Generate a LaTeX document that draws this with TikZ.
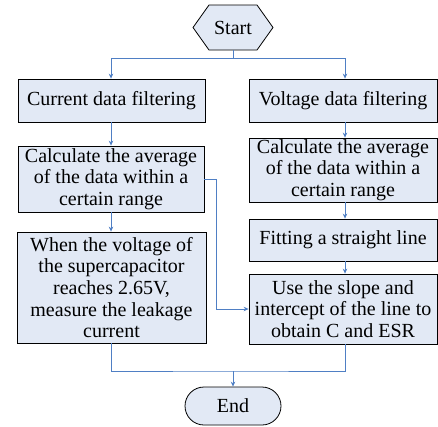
\documentclass[tikz,border=0pt]{standalone}
\usepackage{fontspec}
\setmainfont{Liberation Serif}
\usetikzlibrary{arrows.meta}
\definecolor{boxfill}{RGB}{226,233,245}
\definecolor{linkblue}{RGB}{79,127,196}
\begin{document}
\begin{tikzpicture}[x=1pt,y=1pt,
  stepbox/.style={draw=black,line width=0.8pt,fill=boxfill,align=center,inner sep=0pt,
    font=\fontsize{20}{21.6}\selectfont},
  arr/.style={draw=linkblue,line width=0.9pt,-{Stealth[length=5pt,width=4.5pt]}},
  lnk/.style={draw=linkblue,line width=0.9pt}]
\fill[white] (0,0) rectangle (438,-426);
\useasboundingbox (0,0) rectangle (438,-426);
% start hexagon
\draw[line width=0.8pt,fill=boxfill] (193,-27.5) -- (209,-5) -- (257,-5) -- (273,-27.5) -- (257,-50) -- (209,-50) -- cycle;
\node[minimum width=80pt,minimum height=45pt,inner sep=0pt,font=\fontsize{20}{21.6}\selectfont] (start) at (233,-27.5) {Start};
\coordinate (colL) at (111,0);
\coordinate (colR) at (345,0);
\node[stepbox,minimum width=187pt,minimum height=43pt] (cur) at (111.5,-100.5) {Current data filtering};
\node[stepbox,minimum width=188pt,minimum height=43pt] (vol) at (343,-100.5) {Voltage data filtering};
\node[stepbox,minimum width=186pt,minimum height=66pt] (avgL) at (111,-179) {Calculate the average\\of the data within a\\certain range};
\node[stepbox,minimum width=189pt,minimum height=111pt] (leak) at (111.5,-287.5) {When the voltage of\\the supercapacitor\\reaches 2.65V,\\measure the leakage\\current};
\node[stepbox,minimum width=188pt,minimum height=64pt] (avgR) at (343,-170) {Calculate the average\\of the data within a\\certain range};
\node[stepbox,minimum width=188pt,minimum height=42pt] (fit) at (343,-240) {Fitting a straight line};
\node[stepbox,minimum width=188pt,minimum height=70pt] (use) at (343,-309) {Use the slope and\\intercept of the line to\\obtain C and ESR};
\node[stepbox,rounded corners=19pt,minimum width=96pt,minimum height=38pt] (end) at (233,-406) {End};
% connectors
\coordinate (split) at (233,-58);
\coordinate (merge) at (233,-371);
\coordinate (bend) at (216,-309);
\draw[lnk] (start.south) -- (split);
\draw[arr] (split) -| (cur.north -| colL);
\draw[arr] (split) -| (vol.north -| colR);
\draw[arr] (cur.south -| colL) -- (avgL.north -| colL);
\draw[arr] (avgL.south -| colL) -- (leak.north -| colL);
\draw[arr] (vol.south -| colR) -- (avgR.north -| colR);
\draw[arr] (avgR.south -| colR) -- (fit.north -| colR);
\draw[arr] (fit.south -| colR) -- (use.north -| colR);
\draw[arr] (avgL.east) -| (bend) -- (use.west);
\draw[lnk] (leak.south -| colL) |- (merge) -| (use.south -| colR);
\draw[arr] (merge) -- (end.north);
\end{tikzpicture}
\end{document}
